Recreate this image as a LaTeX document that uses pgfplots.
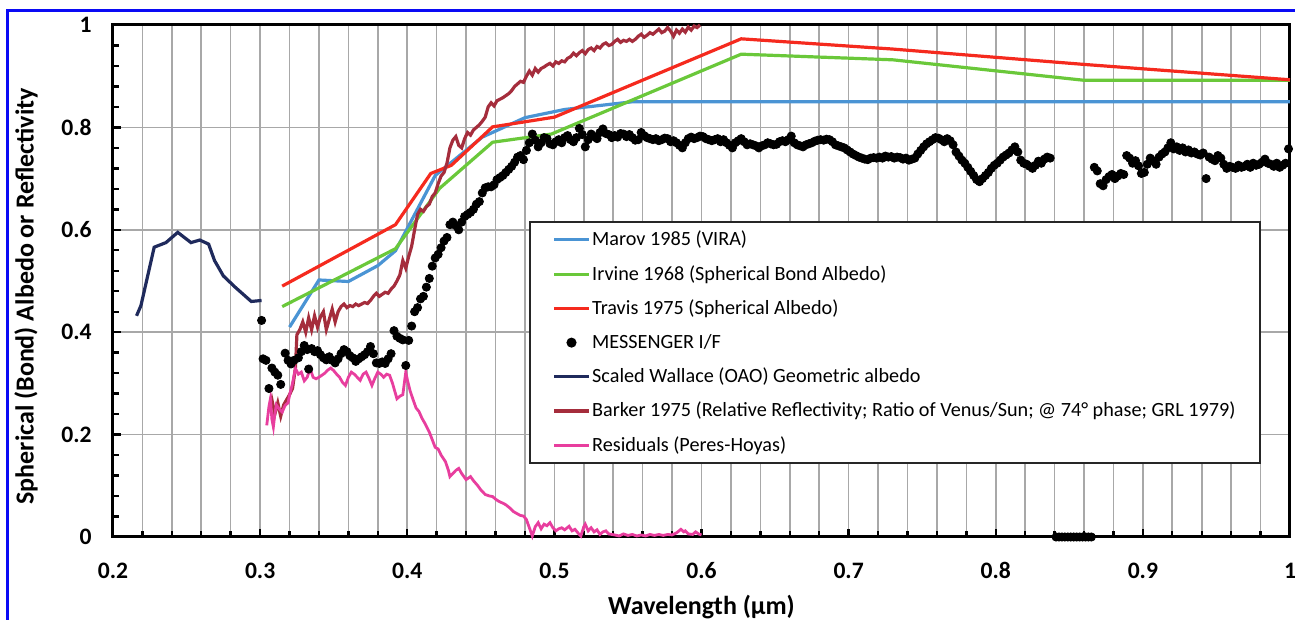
\documentclass[border=0pt]{standalone}
\usepackage{pgfplots}
\pgfplotsset{compat=1.18}
\usepackage{fontspec}
\setmainfont{Carlito}
\definecolor{cMarov}{HTML}{4A94D4}
\definecolor{cIrvine}{HTML}{6AC83A}
\definecolor{cTravis}{HTML}{F52A1E}
\definecolor{cWallace}{HTML}{1F2A5C}
\definecolor{cBarker}{HTML}{A52D3C}
\definecolor{cResid}{HTML}{E83E9E}
\definecolor{cFrame}{HTML}{0A0AF5}
\definecolor{cGrid}{HTML}{A8A8A8}
\begin{document}
\begin{tikzpicture}
\path[use as bounding box] (-56.5pt,-41.5pt) rectangle (591pt,268.5pt);
\begin{axis}[
  at={(0pt,0pt)}, anchor=south west,
  scale only axis, width=588.5pt, height=256pt,
  xmin=0.2, xmax=1, ymin=0, ymax=1,
  clip=false,
  xtick={0.2,0.3,0.4,0.5,0.6,0.7,0.8,0.9,1},
  xticklabels={0.2,0.3,0.4,0.5,0.6,0.7,0.8,0.9,1},
  ytick={0,0.2,0.4,0.6,0.8,1},
  yticklabels={0,0.2,0.4,0.6,0.8,1},
  minor x tick num=4, minor y tick num=4,
  xmajorgrids, xminorgrids, ymajorgrids,
  grid style={cGrid, line width=0.8pt},
  minor grid style={cGrid, line width=0.8pt},
  xtick pos=bottom, ytick pos=left,
  tick align=inside,
  major tick length=4pt, minor tick length=3pt,
  tick style={black, line width=1.2pt},
  axis line style={line width=1.5pt},
  ticklabel style={font=\bfseries\fontsize{11.8}{13}\selectfont, inner sep=0pt},
  xticklabel style={anchor=base, yshift=-20.5pt},
  yticklabel style={anchor=east, xshift=-10.5pt},
  xlabel={Wavelength (µm)},
  ylabel={Spherical (Bond) Albedo or Reflectivity},
  label style={font=\bfseries\fontsize{13}{15}\selectfont},
  xlabel style={at={(axis description cs:0.5,-0.137)}, anchor=center},
  ylabel style={at={(axis description cs:-0.074,0.47)}, anchor=center},
  legend style={at={(0.3534,0.617)}, anchor=north west, draw=black!85, line width=0.9pt,
    fill=white, font=\fontsize{10.1}{12}\selectfont, inner xsep=11.5pt, inner ysep=3.5pt,
    row sep=6.3pt, nodes={inner sep=1pt}},
  legend cell align=left,
]
% Marov 1985 (VIRA)
\addplot[cMarov, line width=1.6pt] coordinates {
(0.32,0.41)(0.34,0.502)(0.36,0.499)(0.38,0.53)(0.392,0.559)(0.419,0.706)(0.451,0.781)(0.48,0.819)(0.507,0.835)(0.553,0.85)(1.0,0.85)};
\addlegendentry{Marov 1985 (VIRA)}
% Irvine 1968
\addplot[cIrvine, line width=1.6pt] coordinates {
(0.315,0.45)(0.392,0.563)(0.422,0.681)(0.458,0.771)(0.498,0.787)(0.627,0.943)(0.73,0.932)(0.86,0.892)(1.0,0.892)};
\addlegendentry{Irvine 1968 (Spherical Bond Albedo)}
% Travis 1975
\addplot[cTravis, line width=1.6pt] coordinates {
(0.315,0.49)(0.392,0.61)(0.416,0.71)(0.43,0.726)(0.458,0.801)(0.50,0.82)(0.627,0.973)(0.73,0.953)(0.86,0.923)(1.0,0.893)};
\addlegendentry{Travis 1975 (Spherical Albedo)}
% MESSENGER I/F
\addplot[only marks, mark=*, mark size=2.05pt, black] coordinates {
(0.301,0.423)(0.302,0.348)(0.304,0.345)(0.306,0.290)(0.308,0.330)(0.310,0.322)(0.312,0.316)(0.314,0.298)
(0.317,0.359)(0.319,0.345)(0.321,0.338)(0.323,0.345)(0.326,0.350)(0.328,0.362)(0.330,0.374)(0.332,0.366)
(0.333,0.328)(0.335,0.368)(0.337,0.362)(0.339,0.364)(0.341,0.356)(0.343,0.350)(0.345,0.346)(0.347,0.352)
(0.349,0.345)(0.351,0.340)(0.353,0.348)(0.355,0.358)(0.357,0.366)(0.359,0.362)(0.361,0.354)(0.363,0.350)
(0.365,0.343)(0.367,0.348)(0.369,0.352)(0.371,0.356)(0.373,0.362)(0.375,0.372)(0.377,0.358)(0.379,0.340)
(0.381,0.339)(0.383,0.342)(0.385,0.339)(0.387,0.348)(0.389,0.358)(0.391,0.403)(0.393,0.392)(0.395,0.388)
(0.397,0.385)(0.399,0.335)(0.401,0.384)(0.403,0.412)(0.405,0.440)(0.407,0.448)(0.409,0.465)(0.411,0.470)
(0.413,0.488)(0.415,0.505)(0.417,0.529)(0.419,0.545)(0.421,0.552)(0.423,0.565)(0.425,0.578)(0.427,0.585)
(0.429,0.610)(0.431,0.615)(0.433,0.608)(0.435,0.600)(0.437,0.615)(0.439,0.626)(0.441,0.630)(0.443,0.634)
(0.445,0.640)(0.447,0.650)(0.449,0.655)(0.451,0.672)(0.453,0.682)(0.455,0.684)(0.457,0.684)(0.459,0.688)
(0.461,0.698)(0.463,0.702)(0.465,0.706)(0.467,0.712)(0.469,0.718)(0.471,0.724)(0.473,0.732)(0.475,0.742)
(0.477,0.745)(0.479,0.737)(0.481,0.755)(0.483,0.770)(0.485,0.787)(0.487,0.775)(0.489,0.762)(0.491,0.770)
(0.493,0.780)(0.495,0.778)(0.497,0.768)(0.499,0.766)(0.501,0.772)(0.503,0.776)(0.505,0.770)(0.507,0.780)
(0.509,0.784)(0.511,0.776)(0.513,0.772)(0.515,0.780)(0.517,0.798)(0.519,0.786)(0.521,0.762)(0.523,0.776)
(0.525,0.787)(0.527,0.782)(0.529,0.778)(0.531,0.790)(0.533,0.797)(0.535,0.788)(0.537,0.786)(0.539,0.780)
(0.541,0.784)(0.543,0.781)(0.545,0.788)(0.547,0.787)(0.549,0.782)(0.551,0.786)(0.553,0.780)(0.555,0.775)
(0.557,0.776)(0.559,0.790)(0.561,0.784)(0.563,0.780)(0.565,0.778)(0.567,0.776)(0.569,0.778)(0.571,0.774)
(0.573,0.776)(0.575,0.779)(0.577,0.778)(0.579,0.772)(0.581,0.774)(0.583,0.770)(0.585,0.765)(0.587,0.760)
(0.589,0.770)(0.591,0.778)(0.593,0.781)(0.595,0.778)(0.597,0.780)(0.599,0.783)(0.601,0.782)(0.603,0.778)
(0.605,0.776)(0.607,0.774)(0.609,0.776)(0.611,0.778)(0.613,0.772)(0.615,0.776)(0.617,0.770)(0.619,0.765)
(0.621,0.760)(0.623,0.770)(0.625,0.774)(0.627,0.778)(0.629,0.772)(0.631,0.766)(0.633,0.768)(0.635,0.766)
(0.637,0.764)(0.639,0.760)(0.641,0.764)(0.643,0.766)(0.645,0.770)(0.647,0.768)(0.649,0.766)(0.651,0.767)
(0.653,0.772)(0.655,0.774)(0.657,0.772)(0.659,0.776)(0.661,0.783)(0.663,0.770)(0.665,0.766)(0.667,0.764)
(0.669,0.762)(0.671,0.766)(0.673,0.768)(0.675,0.770)(0.677,0.773)(0.679,0.775)(0.681,0.776)(0.683,0.775)
(0.685,0.777)(0.687,0.776)(0.689,0.772)(0.691,0.766)(0.693,0.764)(0.695,0.762)(0.697,0.760)(0.699,0.756)
(0.701,0.752)(0.703,0.748)(0.705,0.745)(0.707,0.742)(0.709,0.740)(0.711,0.738)(0.713,0.737)(0.715,0.740)
(0.717,0.741)(0.719,0.740)(0.721,0.742)(0.723,0.740)(0.725,0.744)(0.727,0.742)(0.729,0.743)(0.731,0.740)
(0.733,0.742)(0.735,0.741)(0.737,0.738)(0.739,0.740)(0.741,0.736)(0.743,0.738)(0.745,0.740)(0.747,0.748)
(0.749,0.755)(0.751,0.762)(0.753,0.768)(0.755,0.772)(0.757,0.776)(0.759,0.780)(0.761,0.779)(0.763,0.776)
(0.765,0.772)(0.767,0.778)(0.769,0.774)(0.771,0.766)(0.773,0.752)(0.775,0.744)(0.777,0.736)(0.779,0.730)
(0.781,0.722)(0.783,0.714)(0.785,0.706)(0.787,0.698)(0.789,0.694)(0.791,0.700)(0.793,0.706)(0.795,0.712)
(0.797,0.720)(0.799,0.726)(0.801,0.730)(0.803,0.736)(0.805,0.742)(0.807,0.746)(0.809,0.750)(0.811,0.756)
(0.813,0.762)(0.815,0.752)(0.817,0.736)(0.819,0.730)(0.821,0.728)(0.823,0.724)(0.825,0.720)(0.827,0.726)
(0.829,0.734)(0.831,0.730)(0.833,0.738)(0.835,0.742)(0.837,0.740)
(0.841,0)(0.843,0)(0.845,0)(0.847,0)(0.849,0)(0.851,0)(0.853,0)(0.855,0)(0.857,0)(0.859,0)(0.861,0)(0.863,0)(0.865,0)
(0.867,0.722)(0.869,0.715)(0.871,0.690)(0.873,0.686)(0.875,0.698)(0.877,0.704)(0.879,0.708)(0.881,0.700)
(0.883,0.705)(0.885,0.710)(0.887,0.708)(0.889,0.745)(0.891,0.740)(0.893,0.730)(0.895,0.735)(0.897,0.725)
(0.899,0.710)(0.901,0.712)(0.903,0.728)(0.905,0.740)(0.907,0.735)(0.909,0.728)(0.911,0.742)(0.913,0.748)
(0.915,0.752)(0.917,0.760)(0.919,0.770)(0.921,0.758)(0.923,0.762)(0.925,0.755)(0.927,0.760)(0.929,0.752)
(0.931,0.756)(0.933,0.750)(0.935,0.752)(0.937,0.748)(0.939,0.746)(0.941,0.750)(0.943,0.700)(0.945,0.742)
(0.947,0.738)(0.949,0.735)(0.951,0.745)(0.953,0.740)(0.955,0.728)(0.957,0.720)(0.959,0.724)(0.961,0.722)
(0.963,0.720)(0.965,0.726)(0.967,0.722)(0.969,0.724)(0.971,0.728)(0.973,0.722)(0.975,0.730)(0.977,0.726)
(0.979,0.728)(0.981,0.732)(0.983,0.738)(0.985,0.730)(0.987,0.728)(0.989,0.724)(0.991,0.730)(0.993,0.722)
(0.995,0.726)(0.997,0.730)(0.999,0.758)};
\addlegendentry{MESSENGER I/F}
% Scaled Wallace (OAO)
\addplot[cWallace, line width=1.6pt] coordinates {
(0.216,0.432)(0.219,0.452)(0.228,0.566)(0.236,0.575)(0.244,0.595)(0.253,0.575)(0.259,0.58)(0.265,0.572)(0.269,0.54)(0.275,0.51)(0.283,0.488)(0.294,0.46)(0.301,0.462)};
\addlegendentry{Scaled Wallace (OAO) Geometric albedo}
% Barker 1975
\addplot[cBarker, line width=1.6pt] coordinates {
(0.306,0.245)(0.308,0.268)(0.310,0.240)(0.312,0.262)(0.314,0.236)(0.316,0.258)(0.318,0.268)(0.320,0.278)
(0.322,0.290)(0.324,0.330)(0.325,0.395)(0.327,0.405)(0.329,0.420)(0.331,0.400)(0.333,0.428)(0.335,0.405)
(0.337,0.432)(0.339,0.410)(0.341,0.430)(0.343,0.440)(0.345,0.405)(0.347,0.425)(0.349,0.445)(0.351,0.420)
(0.353,0.440)(0.355,0.450)(0.357,0.455)(0.359,0.448)(0.361,0.452)(0.363,0.450)(0.365,0.455)(0.367,0.452)
(0.369,0.455)(0.371,0.458)(0.373,0.456)(0.375,0.462)(0.377,0.470)(0.379,0.476)(0.381,0.470)(0.383,0.474)
(0.385,0.478)(0.387,0.476)(0.389,0.484)(0.391,0.490)(0.393,0.500)(0.395,0.512)(0.397,0.540)(0.399,0.525)
(0.401,0.548)(0.403,0.568)(0.405,0.600)(0.407,0.630)(0.409,0.640)(0.411,0.636)(0.413,0.645)(0.415,0.650)
(0.417,0.665)(0.419,0.672)(0.421,0.690)(0.423,0.705)(0.425,0.712)(0.427,0.730)(0.429,0.760)(0.431,0.775)
(0.433,0.782)(0.435,0.765)(0.437,0.760)(0.439,0.778)(0.441,0.790)(0.443,0.785)(0.445,0.795)(0.447,0.800)
(0.449,0.805)(0.451,0.812)(0.453,0.820)(0.455,0.840)(0.457,0.848)(0.459,0.842)(0.461,0.852)(0.463,0.855)
(0.465,0.858)(0.467,0.862)(0.469,0.866)(0.471,0.872)(0.473,0.880)(0.475,0.885)(0.477,0.890)(0.479,0.888)
(0.481,0.900)(0.483,0.910)(0.485,0.902)(0.487,0.915)(0.489,0.908)(0.491,0.915)(0.493,0.918)(0.495,0.922)
(0.497,0.925)(0.499,0.920)(0.501,0.928)(0.503,0.925)(0.505,0.930)(0.507,0.928)(0.509,0.935)(0.511,0.938)
(0.513,0.945)(0.515,0.940)(0.517,0.946)(0.519,0.950)(0.521,0.944)(0.523,0.952)(0.525,0.955)(0.527,0.950)
(0.529,0.958)(0.531,0.955)(0.533,0.962)(0.535,0.965)(0.537,0.960)(0.539,0.962)(0.541,0.968)(0.543,0.972)
(0.545,0.966)(0.547,0.970)(0.549,0.968)(0.551,0.972)(0.553,0.968)(0.555,0.972)(0.557,0.978)(0.559,0.982)
(0.561,0.976)(0.563,0.980)(0.565,0.985)(0.567,0.982)(0.569,0.987)(0.571,0.992)(0.573,0.985)(0.575,0.988)
(0.577,0.995)(0.579,0.988)(0.581,0.978)(0.583,0.990)(0.585,0.984)(0.587,0.992)(0.589,0.986)(0.591,0.996)
(0.593,0.990)(0.595,0.998)(0.597,0.995)(0.599,1.0)};
\addlegendentry{Barker 1975 (Relative Reflectivity; Ratio of Venus/Sun; @ 74° phase; GRL 1979)}
% Residuals
\addplot[cResid, line width=1.4pt] coordinates {
(0.3045,0.218)(0.306,0.255)(0.307,0.270)(0.308,0.230)(0.309,0.215)(0.310,0.240)(0.311,0.258)(0.313,0.250)
(0.315,0.244)(0.317,0.257)(0.319,0.262)(0.320,0.277)(0.322,0.300)(0.324,0.329)(0.326,0.318)(0.328,0.322)
(0.330,0.305)(0.332,0.312)(0.334,0.329)(0.336,0.312)(0.338,0.309)(0.340,0.312)(0.342,0.316)(0.344,0.320)
(0.346,0.326)(0.348,0.330)(0.350,0.325)(0.352,0.318)(0.354,0.312)(0.356,0.302)(0.358,0.296)(0.360,0.312)
(0.362,0.322)(0.364,0.318)(0.366,0.312)(0.368,0.306)(0.370,0.318)(0.372,0.322)(0.374,0.310)(0.376,0.296)
(0.378,0.310)(0.380,0.322)(0.382,0.318)(0.384,0.312)(0.386,0.318)(0.388,0.316)(0.390,0.300)(0.392,0.280)
(0.393,0.270)(0.395,0.275)(0.397,0.278)(0.399,0.322)(0.400,0.308)(0.402,0.285)(0.404,0.268)(0.406,0.252)
(0.408,0.245)(0.410,0.232)(0.412,0.222)(0.415,0.205)(0.417,0.190)(0.419,0.175)(0.421,0.172)(0.423,0.160)
(0.426,0.147)(0.428,0.130)(0.429,0.118)(0.431,0.124)(0.433,0.130)(0.435,0.134)(0.437,0.124)(0.440,0.112)
(0.442,0.116)(0.443,0.118)(0.445,0.110)(0.448,0.100)(0.450,0.092)(0.453,0.083)(0.456,0.080)(0.458,0.079)
(0.460,0.074)(0.462,0.070)(0.465,0.066)(0.467,0.063)(0.470,0.056)(0.472,0.050)(0.475,0.045)(0.477,0.042)
(0.479,0.041)(0.481,0.034)(0.483,0.018)(0.485,0.002)(0.487,0.020)(0.489,0.028)(0.491,0.016)(0.493,0.025)
(0.495,0.022)(0.497,0.028)(0.499,0.018)(0.501,0.012)(0.503,0.016)(0.505,0.018)(0.507,0.014)(0.510,0.021)
(0.512,0.012)(0.514,0.015)(0.516,0.008)(0.518,0.002)(0.520,0.020)(0.521,0.025)(0.523,0.012)(0.525,0.018)
(0.527,0.010)(0.529,0.014)(0.531,0.005)(0.533,0.010)(0.535,0.012)(0.537,0.006)(0.539,0.005)(0.541,0.004)
(0.544,0.002)(0.547,0.006)(0.550,0.003)(0.553,0.005)(0.556,0.002)(0.559,0.004)(0.562,0.002)(0.565,0.005)
(0.568,0.003)(0.571,0.005)(0.574,0.003)(0.577,0.005)(0.580,0.004)(0.583,0.008)(0.586,0.015)(0.588,0.010)
(0.589,0.012)(0.591,0.006)(0.594,0.005)(0.596,0.010)(0.598,0.006)(0.600,0.004)};
\addlegendentry{Residuals (Peres-Hoyas)}
\end{axis}
\draw[cFrame, line width=1.5pt] (-52.5pt,-45pt) -- (-52.5pt,263pt) -- (595pt,263pt);
\end{tikzpicture}
\end{document}
